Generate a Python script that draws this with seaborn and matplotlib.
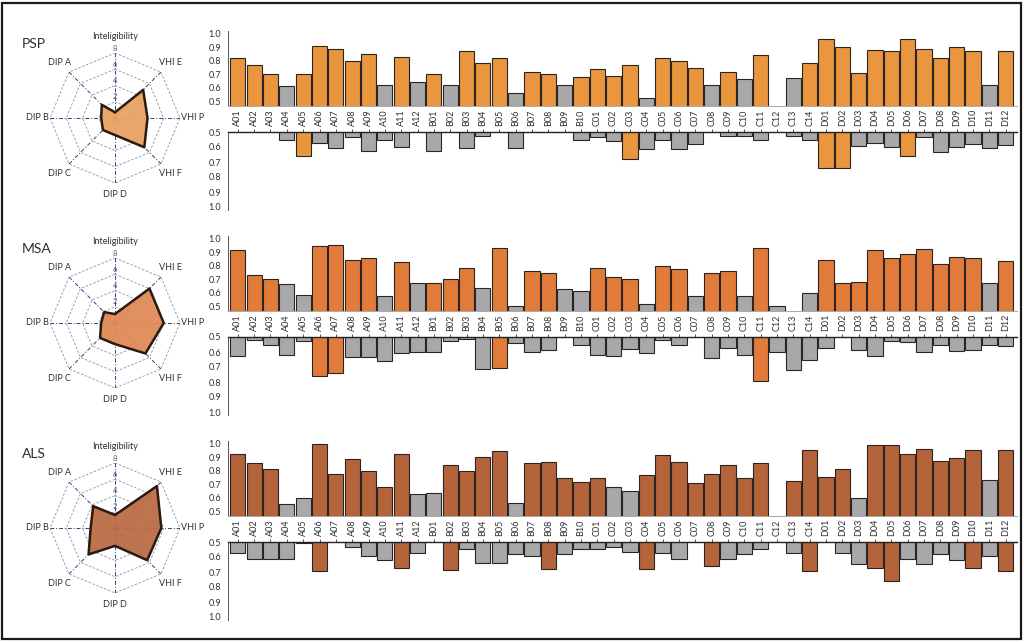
import numpy as np
import pandas as pd
import matplotlib
matplotlib.use("Agg")
import matplotlib.pyplot as plt
from matplotlib.patches import Rectangle
import seaborn as sns

sns.set_theme(style="white")
plt.rcParams["font.family"] = ["Lato", "DejaVu Sans"]

# ---------------------------------------------------------------- data
items = ([f"A{i:02d}" for i in range(1, 13)] + [f"B{i:02d}" for i in range(1, 11)]
         + [f"C{i:02d}" for i in range(1, 15)] + [f"D{i:02d}" for i in range(1, 13)])

radar_axes = ["Inteligibility", "VHI E", "VHI P", "VHI F", "DIP D", "DIP C", "DIP B", "DIP A"]
radar_ticks = [2, 4, 6, 8]

groups = ["PSP", "MSA", "ALS"]

radar_psp = [0.7, 4.9, 4.0, 5.1, 2.1, 2.1, 1.7, 2.3]
radar_msa = [1.1, 6.0, 6.0, 5.3, 2.6, 2.6, 1.7, 1.9]
radar_als = [1.6, 7.3, 5.7, 5.6, 2.2, 4.6, 3.0, 3.8]

nan = np.nan
upper_psp = [0.82, 0.77, 0.70, 0.61, 0.70, 0.91, 0.89, 0.80, 0.85, 0.62, 0.83, 0.64,
             0.70, 0.62, 0.87, 0.78, 0.82, 0.56, 0.72, 0.70, 0.62, 0.68,
             0.74, 0.69, 0.77, 0.525, 0.82, 0.80, 0.75, 0.62, 0.72, 0.665, 0.84, nan, 0.67, 0.78,
             0.96, 0.90, 0.71, 0.88, 0.87, 0.96, 0.89, 0.82, 0.90, 0.87, 0.62, 0.87]
lower_psp = [nan, nan, nan, 0.553, 0.66, 0.571, 0.607, 0.533, 0.624, 0.553, 0.598, nan,
             0.624, nan, 0.607, 0.527, nan, 0.607, nan, nan, nan, 0.553,
             0.533, 0.562, 0.678, 0.613, 0.553, 0.616, 0.58, nan, 0.524, 0.524, 0.553, nan, 0.524, 0.553,
             0.74, 0.74, 0.593, 0.571, 0.598, 0.66, 0.531, 0.633, 0.598, 0.58, 0.607, 0.589]
upper_grey_psp = ["A04", "A10", "A12", "B02", "B06", "B09", "C04", "C08", "C10", "C13", "D11"]
lower_hl_psp = ["A05", "C03", "D01", "D02", "D06"]

upper_msa = [0.915, 0.73, 0.70, 0.663, 0.583, 0.95, 0.954, 0.846, 0.856, 0.573, 0.83, 0.671,
             0.671, 0.70, 0.78, 0.632, 0.934, 0.502, 0.76, 0.749, 0.624, 0.615,
             0.78, 0.72, 0.70, 0.515, 0.80, 0.778, 0.573, 0.749, 0.758, 0.573, 0.934, 0.502, nan, 0.60,
             0.846, 0.671, 0.68, 0.915, 0.856, 0.885, 0.924, 0.817, 0.866, 0.856, 0.671, 0.837]
lower_msa = [0.627, 0.52, 0.556, 0.618, 0.527, 0.76, 0.742, 0.633, 0.633, 0.66, 0.609, 0.60,
             0.60, 0.527, 0.511, 0.716, 0.704, 0.538, 0.60, 0.589, nan, 0.553,
             0.618, 0.627, 0.58, 0.607, 0.518, 0.556, nan, 0.642, 0.571, 0.618, 0.796, 0.60, 0.722, 0.651,
             0.571, nan, 0.589, 0.624, 0.527, 0.536, 0.60, 0.553, 0.591, 0.589, 0.553, 0.562]
upper_grey_msa = ["A04", "A05", "A10", "A12", "B04", "B06", "B09", "B10", "C04", "C07",
                  "C10", "C12", "C14", "D11"]
lower_hl_msa = ["A06", "A07", "B05", "C11"]

upper_als = [0.922, 0.856, 0.815, 0.551, 0.60, 1.0, 0.773, 0.885, 0.80, 0.68, 0.922, 0.63,
             0.637, 0.844, 0.80, 0.902, 0.95, 0.56, 0.856, 0.866, 0.749, 0.717,
             0.749, 0.678, 0.649, 0.766, 0.92, 0.866, 0.707, 0.776, 0.841, 0.749, 0.856, nan, 0.727, 0.954,
             0.756, 0.817, 0.60, 0.993, 0.993, 0.924, 0.961, 0.876, 0.893, 0.954, 0.729, 0.954]
lower_als = [0.573, 0.611, 0.611, 0.611, 0.505, 0.693, nan, 0.531, 0.593, 0.618, 0.673, 0.573,
             nan, 0.689, 0.549, 0.638, 0.638, 0.582, 0.593, 0.682, 0.582, 0.549,
             0.549, 0.531, 0.564, 0.682, 0.573, 0.611, nan, 0.662, 0.611, 0.582, 0.549, nan, 0.573, 0.691,
             nan, 0.573, 0.644, 0.671, 0.76, 0.611, 0.644, 0.582, 0.618, 0.671, 0.591, 0.691]
upper_grey_als = ["A04", "A05", "A12", "B01", "B06", "C02", "C03", "D03", "D11"]
lower_hl_als = ["A06", "A11", "B02", "B08", "C04", "C08", "C14", "D04", "D05", "D10", "D12"]

upper_ticks = [0.5, 0.6, 0.7, 0.8, 0.9, 1.0]

# ---------------------------------------------------------------- style
group_colors = {"PSP": "#E9963F", "MSA": "#E07B3A", "ALS": "#B5633B"}
radar_fill = {"PSP": "#E8A264", "MSA": "#E08A58", "ALS": "#BB6D48"}
grey = "#A8A8AA"
edge = "#2a2522"
text_col = "#2f2f2f"

panels = {
    "PSP": (radar_psp, upper_psp, lower_psp, upper_grey_psp, lower_hl_psp),
    "MSA": (radar_msa, upper_msa, lower_msa, upper_grey_msa, lower_hl_msa),
    "ALS": (radar_als, upper_als, lower_als, upper_grey_als, lower_hl_als),
}

W, H = 1024, 642
fig = plt.figure(figsize=(W / 100, H / 100), dpi=100)


def px_axes(left, top, right, bottom, **kw):
    return fig.add_axes([left / W, 1 - bottom / H, (right - left) / W, (bottom - top) / H], **kw)


def bars(ax, values, highlighted, color, flag_when_in):
    df = pd.DataFrame({"item": items, "value": values})
    inlist = df["item"].isin(highlighted)
    df["kind"] = np.where(inlist == flag_when_in, "hl", "ns")
    df = df.dropna(subset=["value"])
    sns.barplot(data=df, x="item", y="value", hue="kind", order=items,
                hue_order=["hl", "ns"], palette={"hl": color, "ns": grey},
                dodge=False, legend=False, width=0.93, saturation=1,
                edgecolor=edge, linewidth=0.8, ax=ax)
    ax.set_xlabel("")
    ax.set_ylabel("")
    ax.set_xlim(-0.6, len(items) - 0.33)


angles = np.deg2rad(np.arange(len(radar_axes)) * 45.0)
angles_closed = np.append(angles, angles[0])

for k, name in enumerate(groups):
    dy = 205 * k
    radar, upper, lower, upper_grey, lower_hl = panels[name]
    color = group_colors[name]

    fig.text(22 / W, 1 - (44 + dy) / H, name, fontsize=10, color=text_col,
             ha="left", va="center")

    # ---- radar
    cx, cy, R = 115, 118 + dy, 65
    rax = px_axes(cx - R, cy - R, cx + R, cy + R, projection="polar")
    rax.set_theta_zero_location("N")
    rax.set_theta_direction(-1)
    rax.set_ylim(0, 8)
    rax.grid(False)
    rax.set_xticks([])
    rax.set_yticks([])
    rax.spines["polar"].set_visible(False)
    rax.set_facecolor("none")
    for r in radar_ticks:
        rax.plot(angles_closed, [r] * len(angles_closed), color="#8a90a8",
                 lw=0.6, ls=(0, (3, 2)), zorder=1)
    for a in angles:
        rax.plot([a, a], [0, 8], color="#34406e", lw=0.7, ls=(0, (4, 2, 1, 2)), zorder=1)
    vals_closed = np.append(radar, radar[0])
    rax.fill(angles_closed, vals_closed, color=radar_fill[name], alpha=0.95, zorder=2)
    rax.plot(angles_closed, vals_closed, color="#2b1a10", lw=1.8, zorder=3)
    for a, lab in zip(angles, radar_axes):
        deg = np.rad2deg(a) % 360
        if deg == 0:
            rax.text(a, 10.0, lab, ha="center", va="center", fontsize=6.5, color=text_col)
        elif deg == 180:
            rax.text(a, 9.4, lab, ha="center", va="center", fontsize=6.5, color=text_col)
        elif deg == 90:
            rax.text(a, 8.1, lab, ha="left", va="center", fontsize=6.5, color=text_col)
        elif deg == 270:
            rax.text(a, 8.1, lab, ha="right", va="center", fontsize=6.5, color=text_col)
        else:
            rax.text(a, 9.6, lab, ha="center", va="center", fontsize=6.5, color=text_col)
    for r in radar_ticks:
        rax.text(0, r + 0.6, str(r), ha="center", va="center", fontsize=5.5, color="#55607a")

    # ---- upper bars (0.46 .. 1.02)
    uax = px_axes(228, 31.3 + dy, 1016.7, 106.4 + dy)
    bars(uax, upper, upper_grey, color, flag_when_in=False)
    uax.set_ylim(0.46, 1.02)
    uax.set_yticks(upper_ticks)
    uax.set_yticklabels([f"{t:.1f}" for t in upper_ticks])
    uax.set_xticks([])
    for s in ("top", "right"):
        uax.spines[s].set_visible(False)
    uax.spines["bottom"].set_color("#9a9a9a")
    uax.spines["bottom"].set_linewidth(0.6)
    uax.spines["left"].set_color("#555555")
    uax.spines["left"].set_linewidth(0.7)
    uax.tick_params(axis="y", direction="out", length=3, width=0.6, color="#555555",
                    labelsize=6.5, labelcolor=text_col, pad=2)
    uax.set_facecolor("none")

    # ---- lower bars (inverted, hanging from 0.5)
    lax = px_axes(228, 132 + dy, 1016.7, 210 + dy)
    bars(lax, lower, lower_hl, color, flag_when_in=True)
    lax.set_ylim(1.02, 0.5)
    lax.set_yticks(upper_ticks)
    lax.set_yticklabels([f"{t:.1f}" for t in upper_ticks])
    lax.xaxis.tick_top()
    lax.set_xticks(range(len(items)))
    lax.set_xticklabels(items, rotation=90)
    for s in ("bottom", "right"):
        lax.spines[s].set_visible(False)
    lax.spines["top"].set_color("#222222")
    lax.spines["top"].set_linewidth(1.0)
    lax.spines["left"].set_color("#555555")
    lax.spines["left"].set_linewidth(0.7)
    lax.tick_params(axis="y", direction="out", length=3, width=0.6, color="#555555",
                    labelsize=6.5, labelcolor=text_col, pad=2)
    lax.tick_params(axis="x", direction="out", length=2.5, width=0.6, color="#333333",
                    labelsize=6.5, labelcolor=text_col, pad=1.5)
    lax.set_facecolor("none")

fig.patches.append(Rectangle((2 / W, 3 / H), (W - 5) / W, (H - 6) / H,
                             transform=fig.transFigure, fill=False, lw=1.6,
                             ec="#1a1a1a"))

fig.savefig("out.png", dpi=100, facecolor="white")
